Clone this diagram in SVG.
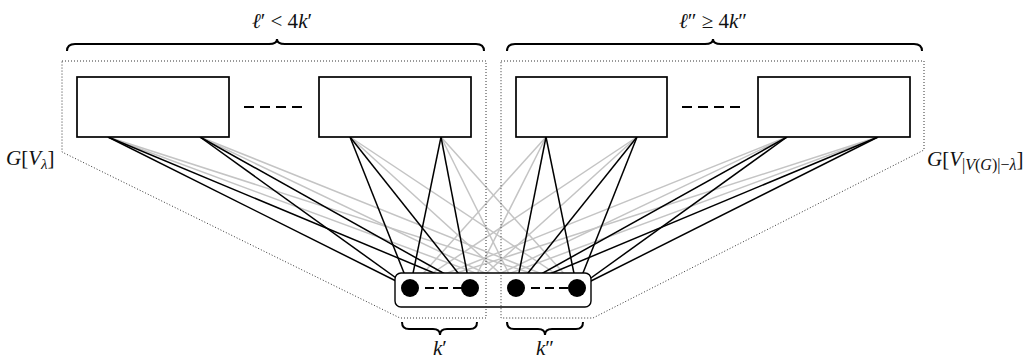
<svg xmlns="http://www.w3.org/2000/svg" width="1033" height="358" viewBox="0 0 1033 358">
<style>
.box{fill:#fff;stroke:#000;stroke-width:1.7}
.blk{stroke:#000;stroke-width:1.5;fill:none}
.gry{stroke:#c4c4c4;stroke-width:1.5;fill:none}
.dot{fill:none;stroke:#333;stroke-width:1;stroke-dasharray:1 2}
.brace{fill:none;stroke:#000;stroke-width:2}
.dash{stroke:#000;stroke-width:2;fill:none}
.t{font-family:"Liberation Serif","DejaVu Serif",serif;font-size:21px;fill:#111}
.i{font-style:italic}
</style>
<rect width="1033" height="358" fill="#fff"/>
<g id="connectors">
<g class="gry">
<line x1="108" y1="137" x2="516" y2="288"/><line x1="108" y1="137" x2="577" y2="288"/>
<line x1="200" y1="137" x2="516" y2="288"/><line x1="200" y1="137" x2="577" y2="288"/>
<line x1="350" y1="137" x2="516" y2="288"/><line x1="350" y1="137" x2="577" y2="288"/>
<line x1="441" y1="137" x2="516" y2="288"/><line x1="441" y1="137" x2="577" y2="288"/>
<line x1="546" y1="137" x2="410" y2="288"/><line x1="546" y1="137" x2="470" y2="288"/>
<line x1="637" y1="137" x2="410" y2="288"/><line x1="637" y1="137" x2="470" y2="288"/>
<line x1="787" y1="137" x2="410" y2="288"/><line x1="787" y1="137" x2="470" y2="288"/>
<line x1="878" y1="137" x2="410" y2="288"/><line x1="878" y1="137" x2="470" y2="288"/>
</g>
<g class="blk">
<line x1="108" y1="137" x2="410" y2="288"/><line x1="108" y1="137" x2="470" y2="288"/>
<line x1="200" y1="137" x2="410" y2="288"/><line x1="200" y1="137" x2="470" y2="288"/>
<line x1="350" y1="137" x2="410" y2="288"/><line x1="350" y1="137" x2="470" y2="288"/>
<line x1="441" y1="137" x2="410" y2="288"/><line x1="441" y1="137" x2="470" y2="288"/>
<line x1="546" y1="137" x2="516" y2="288"/><line x1="546" y1="137" x2="577" y2="288"/>
<line x1="637" y1="137" x2="516" y2="288"/><line x1="637" y1="137" x2="577" y2="288"/>
<line x1="787" y1="137" x2="516" y2="288"/><line x1="787" y1="137" x2="577" y2="288"/>
<line x1="878" y1="137" x2="516" y2="288"/><line x1="878" y1="137" x2="577" y2="288"/>
</g>
</g>
<g id="separator">
<rect x="395" y="273" width="196" height="34" rx="6" fill="#fff" stroke="#000" stroke-width="1.4"/>
</g>
<g id="regions">
<polygon class="dot" points="62,61 486,61 486,318 400,318 62,152"/>
<polygon class="dot" points="501,61 924,61 924,150 593,318 501,318"/>
</g>
<g id="box1"><rect class="box" x="77" y="77" width="152" height="60"/></g>
<g id="box2"><rect class="box" x="319" y="77" width="152" height="60"/></g>
<g id="box3"><rect class="box" x="516" y="77" width="151" height="60"/></g>
<g id="box4"><rect class="box" x="758" y="77" width="152" height="60"/></g>
<g id="dashes">
<line class="dash" x1="244" y1="107" x2="302" y2="107" stroke-dasharray="10 6"/>
<line class="dash" x1="682" y1="107" x2="740" y2="107" stroke-dasharray="10 6"/>
<line class="dash" x1="425" y1="288" x2="462" y2="288" stroke-dasharray="9 5"/>
<line class="dash" x1="531" y1="288" x2="568" y2="288" stroke-dasharray="9 5"/>
</g>
<g id="v1"><circle cx="410" cy="288" r="9"/></g>
<g id="v2"><circle cx="470" cy="288" r="9"/></g>
<g id="v3"><circle cx="516" cy="288" r="9"/></g>
<g id="v4"><circle cx="577" cy="288" r="9"/></g>
<g id="braces">
<path class="brace" d="M67,51 Q67,44 75,44 L269,44 Q277,44 277,39 Q277,44 285,44 L476,44 Q484,44 484,51"/>
<path class="brace" d="M507,51 Q507,44 515,44 L705,44 Q713,44 713,39 Q713,44 721,44 L914,44 Q922,44 922,51"/>
<path class="brace" d="M402,322 Q402,329 409,329 L433,329 Q440,329 440,335 Q440,329 447,329 L470,329 Q477,329 477,322"/>
<path class="brace" d="M507,322 Q507,329 514,329 L538,329 Q545,329 545,335 Q545,329 552,329 L576,329 Q583,329 583,322"/>
</g>
<g id="labels">
<text class="t" x="282" y="28" text-anchor="middle"><tspan class="i">ℓ</tspan>′ &lt; 4<tspan class="i">k</tspan>′</text>
<text class="t" x="713" y="28" text-anchor="middle"><tspan class="i">ℓ</tspan>″ ≥ 4<tspan class="i">k</tspan>″</text>
<text class="t" x="6" y="165"><tspan class="i">G</tspan>[<tspan class="i">V</tspan><tspan class="i" font-size="15" dy="4">λ</tspan><tspan dy="-4">]</tspan></text>
<text class="t" x="927" y="166"><tspan class="i">G</tspan>[<tspan class="i">V</tspan><tspan font-size="16" dy="4">|<tspan class="i">V</tspan>(<tspan class="i">G</tspan>)|−<tspan class="i">λ</tspan></tspan><tspan dy="-4">]</tspan></text>
<text class="t" x="440" y="355" text-anchor="middle"><tspan class="i">k</tspan>′</text>
<text class="t" x="545" y="355" text-anchor="middle"><tspan class="i">k</tspan>″</text>
</g>
</svg>
